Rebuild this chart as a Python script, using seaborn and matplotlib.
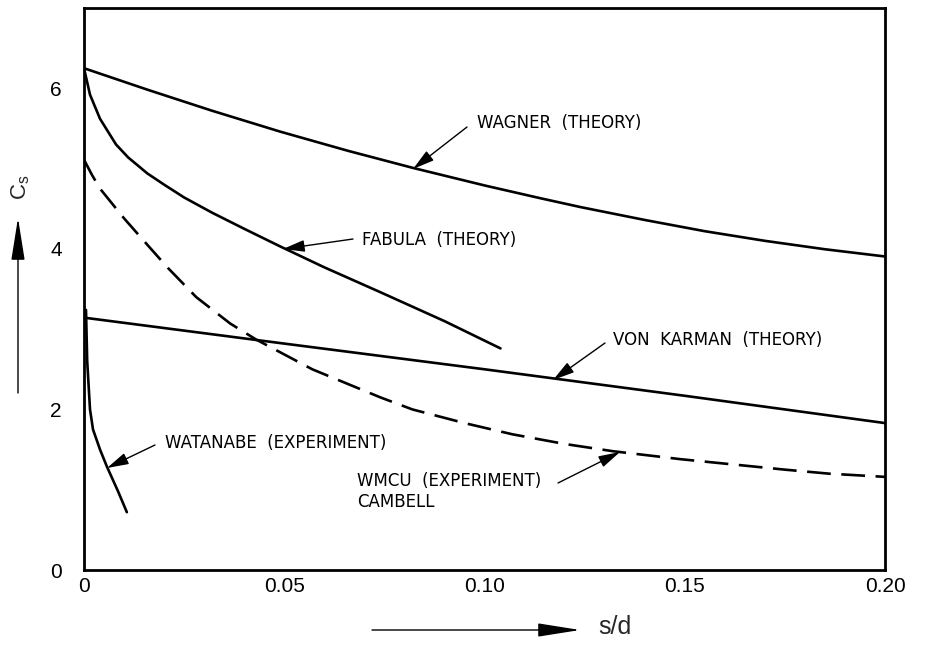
import numpy as np
import pandas as pd
import seaborn as sns
import matplotlib.pyplot as plt

# Slamming coefficient C_s versus non-dimensional penetration s/d
wagner_x = [0.0, 0.016, 0.032, 0.049, 0.066, 0.082, 0.100, 0.114, 0.124, 0.140,
            0.155, 0.170, 0.185, 0.200]
wagner_y = [6.25, 5.98, 5.72, 5.46, 5.22, 5.01, 4.79, 4.63, 4.52, 4.36,
            4.22, 4.10, 3.995, 3.905]

fabula_x = [0.0, 0.0015, 0.004, 0.008, 0.011, 0.0158, 0.020, 0.025, 0.032, 0.040,
            0.049, 0.060, 0.074, 0.090, 0.104]
fabula_y = [6.25, 5.92, 5.62, 5.30, 5.14, 4.94, 4.80, 4.64, 4.45, 4.25,
            4.03, 3.77, 3.46, 3.10, 2.76]

karman_x = [0.0005, 0.05, 0.10, 0.15, 0.20]
karman_y = [3.14, 2.82, 2.50, 2.17, 1.83]

wmcu_x = [0.0, 0.002, 0.004, 0.010, 0.016, 0.021, 0.028, 0.0365, 0.043, 0.057,
          0.074, 0.082, 0.095, 0.107, 0.120, 0.132, 0.149, 0.161, 0.175, 0.186, 0.200]
wmcu_y = [5.11, 4.92, 4.75, 4.38, 4.04, 3.76, 3.40, 3.07, 2.87, 2.50,
          2.15, 2.00, 1.83, 1.69, 1.57, 1.48, 1.38, 1.32, 1.25, 1.20, 1.16]

watanabe_x = [0.0005, 0.0008, 0.0015, 0.00225, 0.0040, 0.0057, 0.0085, 0.0107]
watanabe_y = [3.24, 2.60, 2.00, 1.75, 1.50, 1.29, 0.98, 0.72]

x_ticks = [0.0, 0.05, 0.10, 0.15, 0.20]
x_tick_labels = ["0", "0.05", "0.10", "0.15", "0.20"]
y_ticks = [0, 2, 4, 6]
y_tick_labels = ["0", "2", "4", "6"]

sns.set_theme(style="white")
plt.rcParams["font.family"] = ["DejaVu Sans"]

fig = plt.figure(figsize=(9.30, 6.45), dpi=100)
ax = fig.add_axes([84 / 930, 1 - 570 / 645, 801 / 930, 562 / 645])

lw = 1.9
solid = [(wagner_x, wagner_y), (fabula_x, fabula_y), (karman_x, karman_y),
         (watanabe_x, watanabe_y)]
for xs, ys in solid:
    sns.lineplot(x=xs, y=ys, ax=ax, color="black", linewidth=lw,
                 sort=False, estimator=None)
sns.lineplot(x=wmcu_x, y=wmcu_y, ax=ax, color="black", linewidth=lw,
             sort=False, estimator=None)
ax.lines[-1].set_dashes([9, 4])

ax.set_xlim(0, 0.20)
ax.set_ylim(0, 7)
ax.set_xticks(x_ticks)
ax.set_xticklabels(x_tick_labels)
ax.set_yticks(y_ticks)
ax.set_yticklabels(y_tick_labels)
for lab in ax.get_xticklabels() + ax.get_yticklabels():
    lab.set_fontfamily("Liberation Sans")
    lab.set_fontsize(15)
ax.tick_params(axis="both", direction="in", length=6, width=1.2, color="black",
               labelcolor="black")
ax.tick_params(axis="x", pad=5)
ax.tick_params(axis="y", pad=16)
for sp in ax.spines.values():
    sp.set_color("black")
    sp.set_linewidth(2.0)
ax.set_xlabel("")
ax.set_ylabel("")

# Curve labels with arrows
arrow_kw = dict(arrowstyle="-|>,head_length=1.1,head_width=0.3", color="black",
                lw=1.0, shrinkA=0, shrinkB=0)
label_font = dict(fontsize=12, family="DejaVu Sans", color="black", va="center")


def px(xp, yp):
    return (xp / 930, 1 - yp / 645)


labels = [
    ("WAGNER  (THEORY)", (477, 123), (467, 127), (413, 169)),
    ("FABULA  (THEORY)", (362, 240), (353, 239), (283, 249)),
    ("VON  KARMAN  (THEORY)", (613, 340), (605, 343), (553, 380)),
    ("WATANABE  (EXPERIMENT)", (165, 443), (155, 445), (107, 468)),
]
for text, tpos, tail, tip in labels:
    fig.text(*px(*tpos), text, ha="left", **label_font)
    ax.annotate("", xy=px(*tip), xycoords="figure fraction",
                xytext=px(*tail), textcoords="figure fraction",
                arrowprops=arrow_kw)

fig.text(*px(357, 481), "WMCU  (EXPERIMENT)", ha="left", **label_font)
fig.text(*px(357, 502), "CAMBELL", ha="left", **label_font)
ax.annotate("", xy=px(620, 452), xycoords="figure fraction",
            xytext=px(558, 483), textcoords="figure fraction",
            arrowprops=arrow_kw)

# Axis titles with direction arrows
big_arrow = dict(arrowstyle="-|>,head_length=2.2,head_width=0.35", color="black",
                 lw=1.0, shrinkA=0, shrinkB=0)
ax.annotate("", xy=px(18, 218), xycoords="figure fraction",
            xytext=px(18, 393), textcoords="figure fraction", arrowprops=big_arrow)
fig.text(*px(21, 187), r"$\mathregular{C_s}$", rotation=90, ha="center",
         va="center", fontsize=16, family="Liberation Sans")
ax.annotate("", xy=px(580, 630), xycoords="figure fraction",
            xytext=px(372, 630), textcoords="figure fraction", arrowprops=big_arrow)
fig.text(*px(598, 627), "s/d", ha="left", va="center", fontsize=18,
         family="Liberation Sans")

fig.savefig("out.png", dpi=100)
